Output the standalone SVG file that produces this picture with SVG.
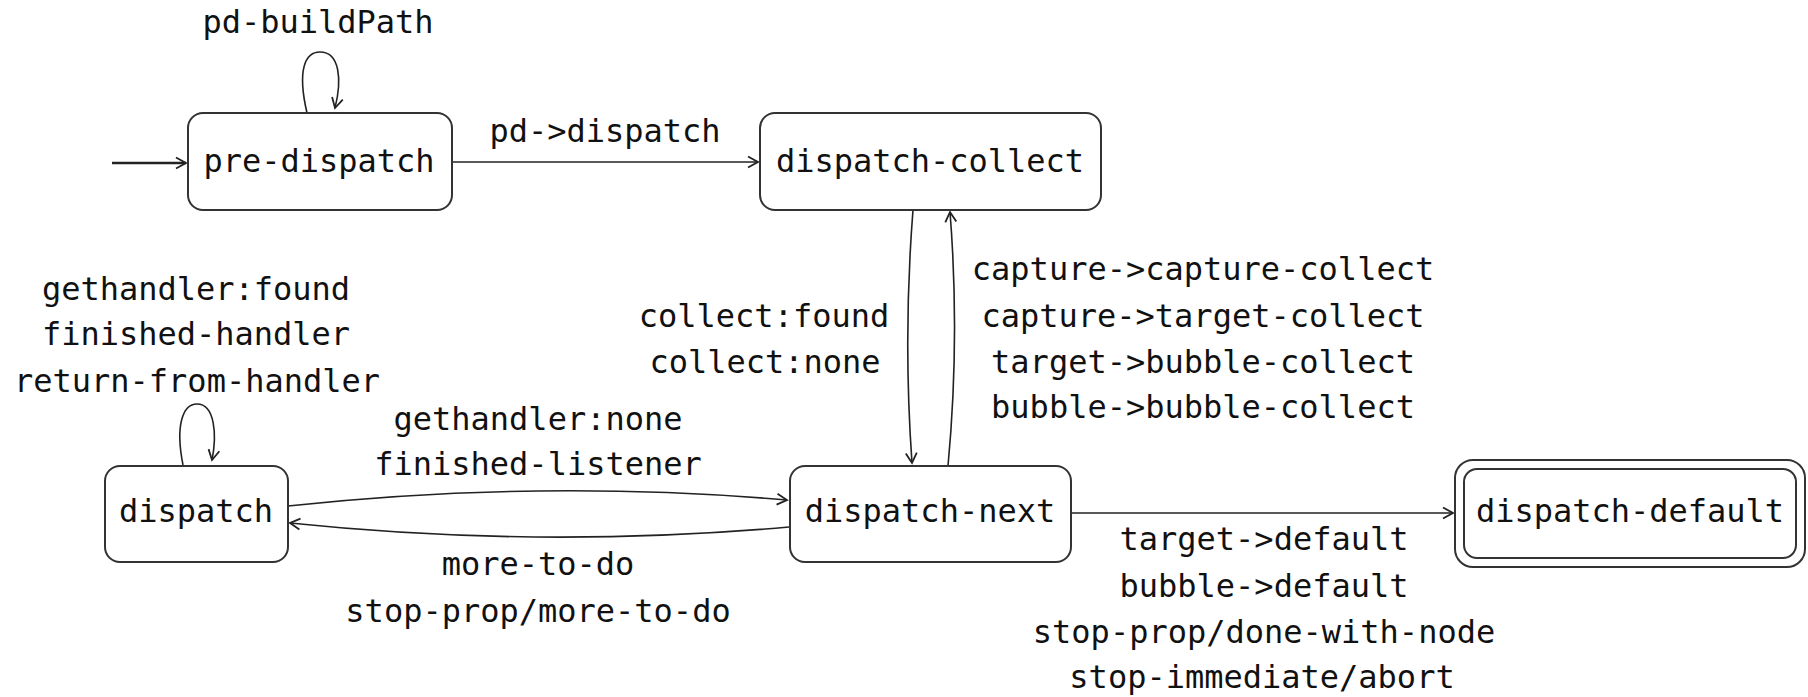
<svg xmlns="http://www.w3.org/2000/svg" width="1808" height="697" viewBox="0 0 1808 697">
<style>
.box{fill:#fff;stroke:#333;stroke-width:2}
.t{font-family:"DejaVu Sans Mono","Liberation Mono",monospace;font-size:32px;fill:#111;text-anchor:middle}
.e{fill:none;stroke:#222;stroke-width:1.6;marker-end:url(#ah)}
</style>
<defs>
<marker id="ah" markerUnits="userSpaceOnUse" markerWidth="14" markerHeight="14" viewBox="0 0 14 14" refX="12" refY="7" orient="auto">
<path d="M2,1.5 L12,7 L2,12.5" fill="none" stroke="#222" stroke-width="1.8"/>
</marker>
</defs>
<rect width="1808" height="697" fill="#fff"/>
<g id="connectors">
<path d="M112,163 L186,163" fill="none" stroke="#222" stroke-width="2.6" marker-end="url(#ah)"/>
<path class="e" d="M307,113 C297,70 305,52 320,52 C340,52 342,80 335,108"/>
<text class="t" x="318" y="33">pd-buildPath</text>
<path class="e" d="M452,162 L758,162"/>
<text class="t" x="605" y="142">pd-&gt;dispatch</text>
<path class="e" d="M913,210 Q903,337 912,463"/>
<text class="t" x="764" y="327">collect:found</text>
<text class="t" x="765" y="373">collect:none</text>
<path class="e" d="M948,466 Q960,338 950,212"/>
<text class="t" x="1203" y="280">capture-&gt;capture-collect</text>
<text class="t" x="1203" y="327">capture-&gt;target-collect</text>
<text class="t" x="1203" y="373">target-&gt;bubble-collect</text>
<text class="t" x="1203" y="418">bubble-&gt;bubble-collect</text>
<path class="e" d="M183,465 C175,425 183,404 197,404 C215,404 217,435 212,460"/>
<text class="t" x="196" y="300">gethandler:found</text>
<text class="t" x="196" y="345">finished-handler</text>
<text class="t" x="197" y="392">return-from-handler</text>
<path class="e" d="M288,506 Q540,479 787,500"/>
<text class="t" x="538" y="430">gethandler:none</text>
<text class="t" x="538" y="475">finished-listener</text>
<path class="e" d="M789,527 Q540,549 290,523"/>
<text class="t" x="538" y="575">more-to-do</text>
<text class="t" x="538" y="622">stop-prop/more-to-do</text>
<path class="e" d="M1071,513 L1453,513"/>
<text class="t" x="1264" y="550">target-&gt;default</text>
<text class="t" x="1264" y="597">bubble-&gt;default</text>
<text class="t" x="1264" y="643">stop-prop/done-with-node</text>
<text class="t" x="1262" y="688">stop-immediate/abort</text>
</g>
<g id="pre-dispatch">
<rect class="box" x="188" y="113" width="264" height="97" rx="15"/>
<text class="t" x="319" y="172">pre-dispatch</text>
</g>
<g id="dispatch-collect">
<rect class="box" x="760" y="113" width="341" height="97" rx="15"/>
<text class="t" x="930" y="172">dispatch-collect</text>
</g>
<g id="dispatch">
<rect class="box" x="105" y="466" width="183" height="96" rx="15"/>
<text class="t" x="196" y="522">dispatch</text>
</g>
<g id="dispatch-next">
<rect class="box" x="790" y="466" width="281" height="96" rx="15"/>
<text class="t" x="930" y="522">dispatch-next</text>
</g>
<g id="dispatch-default">
<rect class="box" x="1455" y="460" width="350" height="107" rx="18"/>
<rect class="box" x="1464" y="469" width="332" height="89" rx="13"/>
<text class="t" x="1630" y="522">dispatch-default</text>
</g>
</svg>
